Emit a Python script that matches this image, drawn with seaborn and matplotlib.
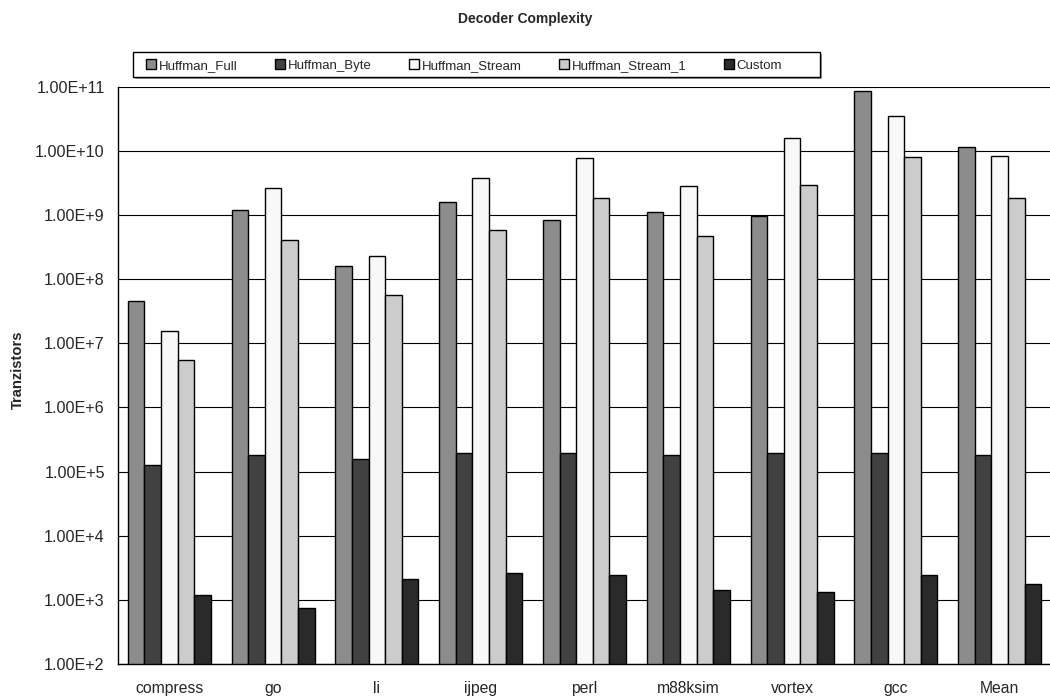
import pandas as pd
import seaborn as sns
import matplotlib.pyplot as plt
from matplotlib.ticker import FuncFormatter, FixedLocator

# data (transistor counts, log scale)
benchmarks = ["compress", "go", "li", "ijpeg", "perl", "m88ksim", "vortex", "gcc", "Mean"]
huffman_full = [4.5e7, 1.21e9, 1.6e8, 1.62e9, 8.5e8, 1.13e9, 9.6e8, 8.5e10, 1.14e10]
huffman_byte = [1.28e5, 1.81e5, 1.59e5, 1.97e5, 1.97e5, 1.83e5, 1.92e5, 1.97e5, 1.79e5]
huffman_stream = [1.57e7, 2.67e9, 2.33e8, 3.78e9, 7.67e9, 2.84e9, 1.57e10, 3.53e10, 8.4e9]
huffman_stream_1 = [5.5e6, 4.14e8, 5.7e7, 5.9e8, 1.87e9, 4.7e8, 2.9e9, 8.1e9, 1.82e9]
custom = [1.18e3, 740, 2.15e3, 2.6e3, 2.42e3, 1.4e3, 1.31e3, 2.48e3, 1.79e3]

series = ["Huffman_Full", "Huffman_Byte", "Huffman_Stream", "Huffman_Stream_1", "Custom"]
colors = ["#8c8c8c", "#414141", "#f8f8f8", "#cccccc", "#2a2a2a"]

df = pd.DataFrame({
    "bench": benchmarks * 5,
    "series": sum([[s] * len(benchmarks) for s in series], []),
    "value": huffman_full + huffman_byte + huffman_stream + huffman_stream_1 + custom,
})

sns.set_style("white")
plt.rcParams["font.family"] = ["Liberation Sans", "DejaVu Sans"]

W, H = 1050, 700
fig = plt.figure(figsize=(10.5, 7), dpi=100)
# plot area in pixels: x 117.5 -> 1051.5, y 86.7 -> 664 (right part runs off the image like the original)
ax = fig.add_axes([117.5 / W, 36 / H, 934 / W, 577.3 / H])
ax.set_yscale("log")
sns.barplot(data=df, x="bench", y="value", hue="series", hue_order=series,
            palette=colors, edgecolor="black", linewidth=1.0, width=0.8,
            saturation=1, ax=ax, legend=False)

ax.set_ylim(1e2, 1e11)
ax.yaxis.set_major_locator(FixedLocator([10.0 ** k for k in range(2, 12)]))
ax.yaxis.set_minor_locator(FixedLocator([]))
ax.yaxis.set_major_formatter(FuncFormatter(lambda v, p: f"{v:.2E}".replace("E+0", "E+")))
ax.grid(axis="y", color="black", linewidth=0.8)
ax.set_axisbelow(True)

# category labels centred, tick marks between the groups
ax.set_xlim(-0.5, len(benchmarks) - 0.5)
ax.tick_params(axis="x", which="major", length=0, labelsize=11.3, pad=12)
ax.set_xticks([i + 0.5 for i in range(len(benchmarks) - 1)], minor=True)
ax.tick_params(axis="x", which="minor", length=3.6, width=1, color="black", direction="out")
ax.tick_params(axis="y", which="major", length=3.6, width=1, color="black", labelsize=11.6,
               direction="out", pad=5.5)

for side in ["top", "right"]:
    ax.spines[side].set_visible(False)
for side in ["left", "bottom"]:
    ax.spines[side].set_color("black")
    ax.spines[side].set_linewidth(1.0)

ax.set_xlabel("")
ax.set_ylabel("Tranzistors", fontsize=10.6, fontweight="bold")
ax.yaxis.set_label_coords(-0.099, 0.51)
fig.suptitle("Decoder Complexity", fontsize=10, fontweight="bold", y=0.983)

# legend frame with a small grey shadow, entries spread across it
box_x0, box_x1, box_y0, box_y1 = 133, 820, 52, 77
shadow = plt.Rectangle(((box_x0 + 2) / W, 1 - (box_y1 + 2) / H), (box_x1 - box_x0) / W,
                       (box_y1 - box_y0) / H, transform=fig.transFigure,
                       facecolor="#9a9a9a", edgecolor="none", zorder=1)
frame = plt.Rectangle((box_x0 / W, 1 - box_y1 / H), (box_x1 - box_x0) / W,
                      (box_y1 - box_y0) / H, transform=fig.transFigure,
                      facecolor="white", edgecolor="black", linewidth=1.0, zorder=2)
fig.patches.extend([shadow, frame])

handles = [plt.Rectangle((0, 0), 1, 1, facecolor=c, edgecolor="black", linewidth=1.0) for c in colors]
leg = fig.legend(handles, series, loc="center left", ncol=5, mode="expand",
                 bbox_to_anchor=(146 / W, 1 - 76 / H, 636 / W, 21 / H),
                 handlelength=0.75, handleheight=0.75, handletextpad=0.2,
                 fontsize=9.5, frameon=False, borderaxespad=0, borderpad=0)
leg.set_zorder(3)

fig.savefig("out.png", dpi=100)
